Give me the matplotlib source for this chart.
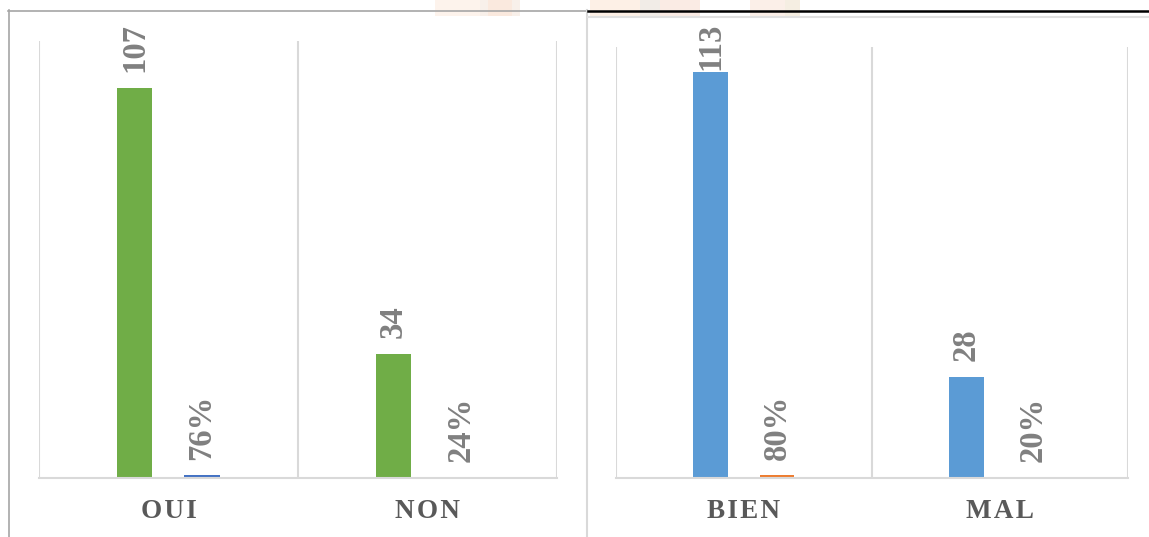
import matplotlib
matplotlib.use("Agg")
import matplotlib.pyplot as plt
from matplotlib.patches import Rectangle
from matplotlib.lines import Line2D

# ---- data ----
cats_left = ["OUI", "NON"]
counts_left = [107, 34]
pct_left = [0.76, 0.24]

cats_right = ["BIEN", "MAL"]
counts_right = [113, 28]
pct_right = [0.80, 0.20]

W, H = 1149, 537
fig = plt.figure(figsize=(W / 100, H / 100), dpi=100)
fig.patch.set_facecolor("white")

SERIF = ["Liberation Serif", "DejaVu Serif"]
LABEL_GRAY = "#808080"
CAT_GRAY = "#595959"
GRID = "#d9d9d9"
LBL_SIZE = 23.5


def px_axes(x0, y0, x1, y1):
    return fig.add_axes([x0 / W, 1 - y1 / H, (x1 - x0) / W, (y1 - y0) / H])


def panel(ax, cats, counts, pcts, c_main, c_pct):
    ax.set_xlim(0, len(cats))
    ax.set_ylim(0, 120)
    for s in ["top", "right", "left"]:
        ax.spines[s].set_visible(False)
    ax.spines["bottom"].set_color(GRID)
    ax.spines["bottom"].set_linewidth(1.5)
    ax.set_yticks([])
    ax.set_xticks([])
    for g in range(len(cats) + 1):
        ax.axvline(g, color=GRID, lw=1.5, zorder=0)
    xs = [i + 0.5 for i in range(len(cats))]
    xm = [x - 0.131 for x in xs]
    xp = [x + 0.129 for x in xs]
    ax.bar(xm, counts, width=0.136, color=c_main, zorder=2)
    ax.bar(xp, pcts, width=0.136, color=c_pct, zorder=2)
    fig.canvas.draw()
    top_limit = H - 70  # display px (from bottom) where labels get clamped
    for x, v in zip(xm, counts):
        dx, dy = ax.transData.transform((x, v))
        dy = min(dy + 16, top_limit)
        fig.text(dx / W, dy / H, f"{v}", rotation=90, ha="center", va="bottom",
                 fontsize=LBL_SIZE, fontweight="bold", color=LABEL_GRAY, family=SERIF)
    for x, v in zip(xp, pcts):
        dx, dy = ax.transData.transform((x, v))
        dy = min(dy + 15, top_limit)
        fig.text(dx / W, dy / H, f"{round(v * 100)}%", rotation=90, ha="center",
                 va="bottom", fontsize=LBL_SIZE, fontweight="bold", color=LABEL_GRAY,
                 family=SERIF)
    for x, c in zip(xs, cats):
        dx, _ = ax.transData.transform((x, 0))
        fig.text(dx / W, 1 - 511 / H, "\u200a".join(c), ha="center", va="center",
                 fontsize=19.5, fontweight="bold", color=CAT_GRAY, family=SERIF)


axL = px_axes(39, 41, 557, 478)
panel(axL, cats_left, counts_left, pct_left, "#70ad47", "#4472c4")
axR = px_axes(616, 47, 1128, 478)
panel(axR, cats_right, counts_right, pct_right, "#5b9bd5", "#ed7d31")

# ---- frame / decoration lines (pixel coordinates) ----
def hline(x0, x1, y, color, lw):
    fig.add_artist(Line2D([x0 / W, x1 / W], [1 - y / H, 1 - y / H],
                          color=color, lw=lw, transform=fig.transFigure))


def vline(x, y0, y1, color, lw):
    fig.add_artist(Line2D([x / W, x / W], [1 - y0 / H, 1 - y1 / H],
                          color=color, lw=lw, transform=fig.transFigure))

# faint watermark patches at the top
for (x0, x1, col) in [(435, 480, "#fdf3ec"), (480, 520, "#f8f0ea"),
                      (488, 512, "#fae9de"), (590, 640, "#fdf0e6"),
                      (640, 680, "#f1ece7"), (660, 700, "#faebe4"),
                      (750, 800, "#fbefe8"), (785, 800, "#f5eee2")]:
    fig.add_artist(Rectangle((x0 / W, 1 - 16 / H), (x1 - x0) / W, 16 / H,
                             transform=fig.transFigure, color=col, lw=0, zorder=0))

hline(8, 587, 10.5, "#a6a6a6", 1.2)
vline(8.5, 10, 537, "#a6a6a6", 1.2)
vline(587, 10, 537, GRID, 1.5)
hline(588, 1149, 11, "black", 1.8)
hline(588, 1149, 17, "#e0e0e0", 1.5)

fig.savefig("out.png", dpi=100, facecolor="white")
